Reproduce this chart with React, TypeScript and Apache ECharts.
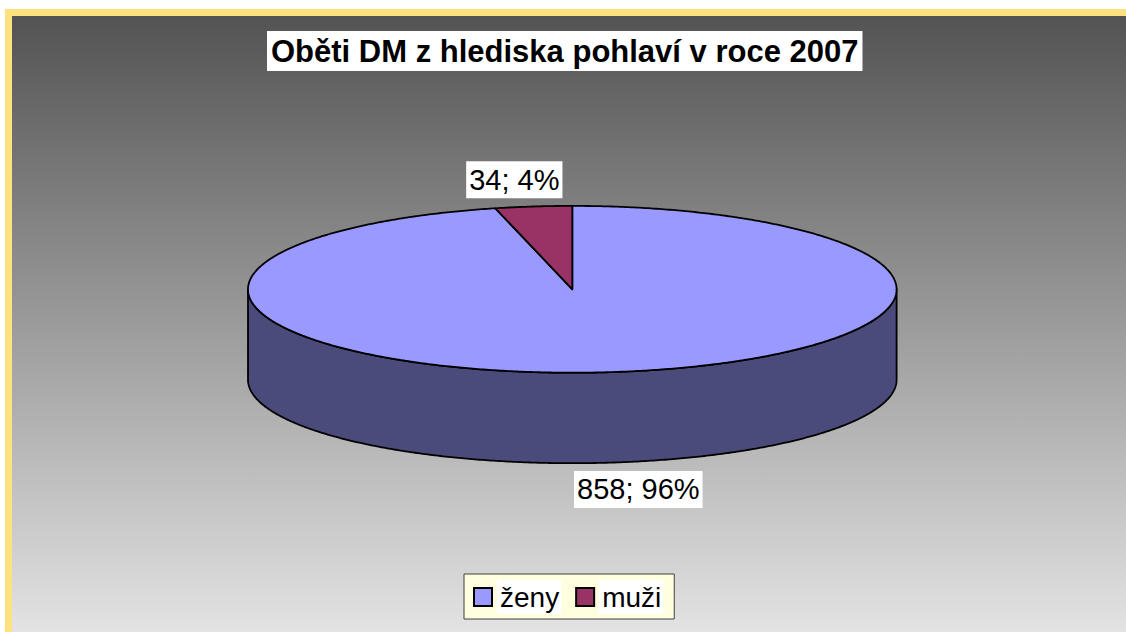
import React, { useEffect, useRef } from "react";
import * as echarts from "echarts";

const TITLE = "Oběti DM z hlediska pohlaví v roce 2007";
const categories = ["ženy", "muži"];
const values = [858, 34];
const topColors = ["#9999FF", "#993366"];
const sideColors = ["#4B4B7B", "#5A1E3C"];

const FONT = "'Liberation Sans', Arial, Helvetica, sans-serif";

// pie geometry (layout only)
const CX = 572.3;
const CY = 289.3;
const RX = 324.3;
const RY = 83.4;
const DEPTH = 90.5;

const total = values.reduce((a, b) => a + b, 0);

function pt(thetaDeg: number, dy: number) {
  const t = (thetaDeg * Math.PI) / 180;
  return [CX + RX * Math.cos(t), CY - RY * Math.sin(t) + dy];
}

function arcPoints(from: number, to: number, dy: number) {
  const pts: number[][] = [];
  const steps = Math.max(2, Math.ceil(Math.abs(to - from) / 0.5));
  for (let k = 0; k <= steps; k++) {
    pts.push(pt(from + ((to - from) * k) / steps, dy));
  }
  return pts;
}

function makeSeries(i: number) {
  const before = values.slice(0, i).reduce((a, b) => a + b, 0);
  return {
    type: "custom",
    name: categories[i],
    coordinateSystem: "none",
    itemStyle: { color: topColors[i] },
    data: [[values[i]]],
    z: 2,
    renderItem: (params: any, api: any) => {
      const v = api.value(0);
      const startFrac = before / total;
      const endFrac = (before + v) / total;
      const aStart = 90 - startFrac * 360;
      const aEnd = 90 - endFrac * 360;
      const children: any[] = [];
      // visible front side
      const lo = Math.max(aEnd, -180);
      const hi = Math.min(aStart, 0);
      if (lo < hi) {
        const topArc = arcPoints(lo, hi, 0);
        const botArc = arcPoints(hi, lo, DEPTH);
        children.push({
          type: "polygon",
          z2: 1,
          shape: { points: topArc.concat(botArc) },
          style: { fill: sideColors[i], stroke: "#000", lineWidth: 1.8, lineJoin: "round" },
        });
      }
      // top face
      const top = [[CX, CY]].concat(arcPoints(aStart, aEnd, 0));
      children.push({
        type: "polygon",
        z2: 5,
        shape: { points: top },
        style: { fill: topColors[i], stroke: "#000", lineWidth: 1.8, lineJoin: "round" },
      });
      // label
      const mid = (aStart + aEnd) / 2;
      const t = (mid * Math.PI) / 180;
      const s = Math.sin(t);
      const lx = CX + 4 + RX * 1.6 * Math.cos(t);
      const ly = CY - (RY + 27) * s + (s < 0 ? DEPTH : 0);
      const pct = Math.round((v / total) * 100);
      children.push({
        type: "text",
        z2: 10,
        x: lx,
        y: ly,
        style: {
          text: v + "; " + pct + "%",
          fontSize: 29,
          fontFamily: FONT,
          fill: "#000",
          align: "center",
          verticalAlign: "middle",
          backgroundColor: "#fff",
          padding: [2, 3, 2, 3],
          lineHeight: 33,
        },
      });
      return { type: "group", children };
    },
  };
}

export default function App() {
  const ref = useRef<HTMLDivElement>(null);
  useEffect(() => {
    if (!ref.current) return;
    const chart = echarts.init(ref.current, null, { renderer: "svg" });
    chart.setOption({
      animation: false,
      backgroundColor: "#fff",
      color: topColors,
      graphic: [
        {
          type: "rect",
          z: -10,
          silent: true,
          shape: { x: 5, y: 9, width: 1200, height: 700 },
          style: { fill: "#FFE27E" },
        },
        {
          type: "rect",
          z: -9,
          silent: true,
          shape: { x: 12, y: 16, width: 1200, height: 616 },
          style: {
            fill: {
              type: "linear",
              x: 0,
              y: 0,
              x2: 0,
              y2: 1,
              colorStops: [
                { offset: 0, color: "#535353" },
                { offset: 1, color: "#E3E3E3" },
              ],
            },
          },
        },
      ],
      title: {
        text: TITLE,
        left: 267,
        top: 31,
        padding: [3, 4, 2, 4],
        backgroundColor: "#fff",
        textStyle: {
          fontSize: 31,
          fontWeight: "bold",
          fontFamily: FONT,
          color: "#000",
          lineHeight: 35,
        },
      },
      legend: {
        data: categories,
        left: 464,
        top: 574,
        orient: "horizontal",
        icon: "rect",
        itemWidth: 18,
        itemHeight: 18,
        itemGap: 14,
        padding: [6, 11, 5, 9],
        backgroundColor: "#FFFFE0",
        borderColor: "#404040",
        borderWidth: 1,
        selectedMode: false,
        itemStyle: { borderColor: "#000", borderWidth: 2 },
        textStyle: {
          fontSize: 28,
          fontFamily: FONT,
          color: "#000",
          backgroundColor: "#fff",
          padding: [1, 2, 1, 3],
          lineHeight: 32,
        },
      },
      series: categories.map((_, i) => makeSeries(i)),
    });
    return () => chart.dispose();
  }, []);
  return (
    <div
      ref={ref}
      style={{ position: "fixed", left: 0, top: 0, width: 1126, height: 632 }}
    />
  );
}
